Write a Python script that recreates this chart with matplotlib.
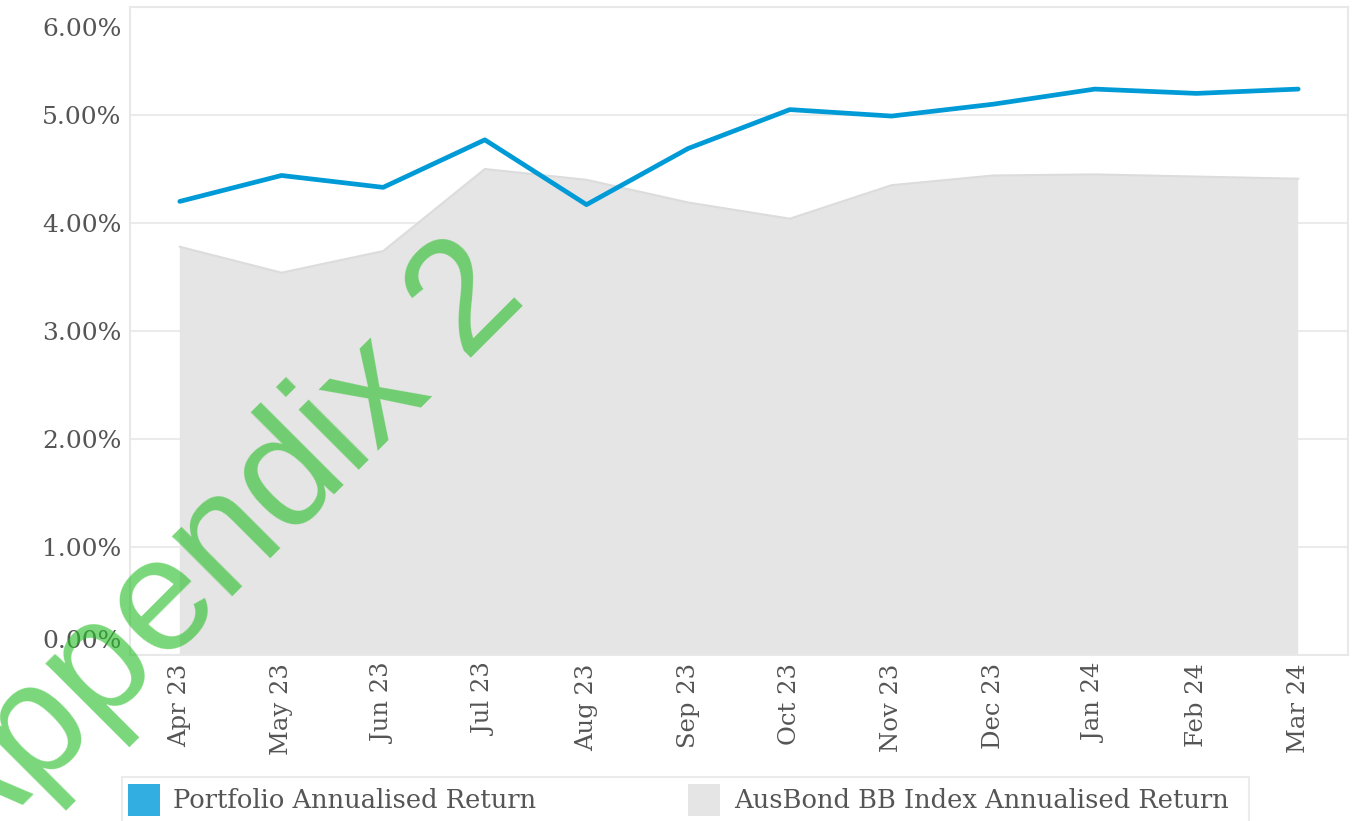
import matplotlib
matplotlib.use("Agg")
import matplotlib.pyplot as plt
import matplotlib.transforms as mtransforms
from matplotlib.patches import Rectangle

months = ["Apr 23", "May 23", "Jun 23", "Jul 23", "Aug 23", "Sep 23",
          "Oct 23", "Nov 23", "Dec 23", "Jan 24", "Feb 24", "Mar 24"]
portfolio = [4.20, 4.44, 4.33, 4.77, 4.17, 4.69, 5.05, 4.99, 5.10, 5.24, 5.20, 5.24]
ausbond = [3.78, 3.54, 3.74, 4.50, 4.40, 4.19, 4.04, 4.35, 4.44, 4.45, 4.43, 4.41]
yticks = [0, 1, 2, 3, 4, 5, 6]
ytick_labels = ["0.00%", "1.00%", "2.00%", "3.00%", "4.00%", "5.00%", "6.00%"]
legend_labels = ["Portfolio Annualised Return", "AusBond BB Index Annualised Return"]

W, H = 1363, 821
fig = plt.figure(figsize=(W / 100, H / 100), dpi=100)
fig.patch.set_facecolor("white")
ax = fig.add_axes([130 / W, 1 - 655 / H, (1348 - 130) / W, (655 - 7) / H])

FONT = "DejaVu Serif"
TXT = "#555555"
x = list(range(len(months)))

ax.fill_between(x, ausbond, 0, facecolor="#e5e5e5", edgecolor="none", zorder=2)
ax.plot(x, ausbond, color="#dcdcdc", lw=1.5, zorder=2.5)
ax.plot(x, portfolio, color="#009bd6", lw=3.4, solid_capstyle="round",
        solid_joinstyle="round", zorder=3)

ax.set_xlim(-0.49, 11.49)
ax.set_ylim(0, 6)
ax.set_yticks(yticks)
ax.set_yticklabels(ytick_labels, fontfamily=FONT, fontsize=18, color=TXT)
ax.set_xticks(x)
ax.set_xticklabels(months, rotation=90, fontfamily=FONT, fontsize=17.5, color=TXT)
ax.tick_params(axis="both", length=0)
ax.tick_params(axis="y", pad=6)
ax.tick_params(axis="x", pad=6)
ax.grid(axis="y", color="#ebebeb", lw=1.5, zorder=1)
ax.set_axisbelow(True)
for s in ax.spines.values():
    s.set_color("#e8e8e8")
    s.set_linewidth(1.5)

# shift first/last y label inward like the original
labs = ax.get_yticklabels()
labs[0].set_transform(labs[0].get_transform() + mtransforms.ScaledTranslation(0, 16 / 100, fig.dpi_scale_trans))
labs[-1].set_transform(labs[-1].get_transform() + mtransforms.ScaledTranslation(0, -20 / 100, fig.dpi_scale_trans))

# legend box (manual)
def fx(px):
    return px / W

def fy(py):
    return 1 - py / H

fig.add_artist(Rectangle((fx(122), fy(830)), fx(1249) - fx(122), fy(777) - fy(830),
                         transform=fig.transFigure, facecolor="white",
                         edgecolor="#ebebeb", lw=1.5))
fig.add_artist(Rectangle((fx(128), fy(816)), fx(160) - fx(128), fy(784) - fy(816),
                         transform=fig.transFigure, facecolor="#33aee0", edgecolor="none"))
fig.add_artist(Rectangle((fx(688), fy(816)), fx(720) - fx(688), fy(784) - fy(816),
                         transform=fig.transFigure, facecolor="#e5e5e5", edgecolor="none"))
fig.text(fx(173), fy(800), legend_labels[0], fontfamily=FONT, fontsize=18.5, color=TXT, va="center")
fig.text(fx(734), fy(800), legend_labels[1], fontfamily=FONT, fontsize=18.5, color=TXT, va="center")

# watermark
fig.text(fx(244), fy(585), "Appendix 2", fontfamily="Liberation Sans", fontsize=116,
         color=(0.16, 0.75, 0.16), alpha=0.62, rotation=45, rotation_mode="anchor",
         ha="center", va="baseline", zorder=10)

fig.savefig("out.png", dpi=100, facecolor="white")
